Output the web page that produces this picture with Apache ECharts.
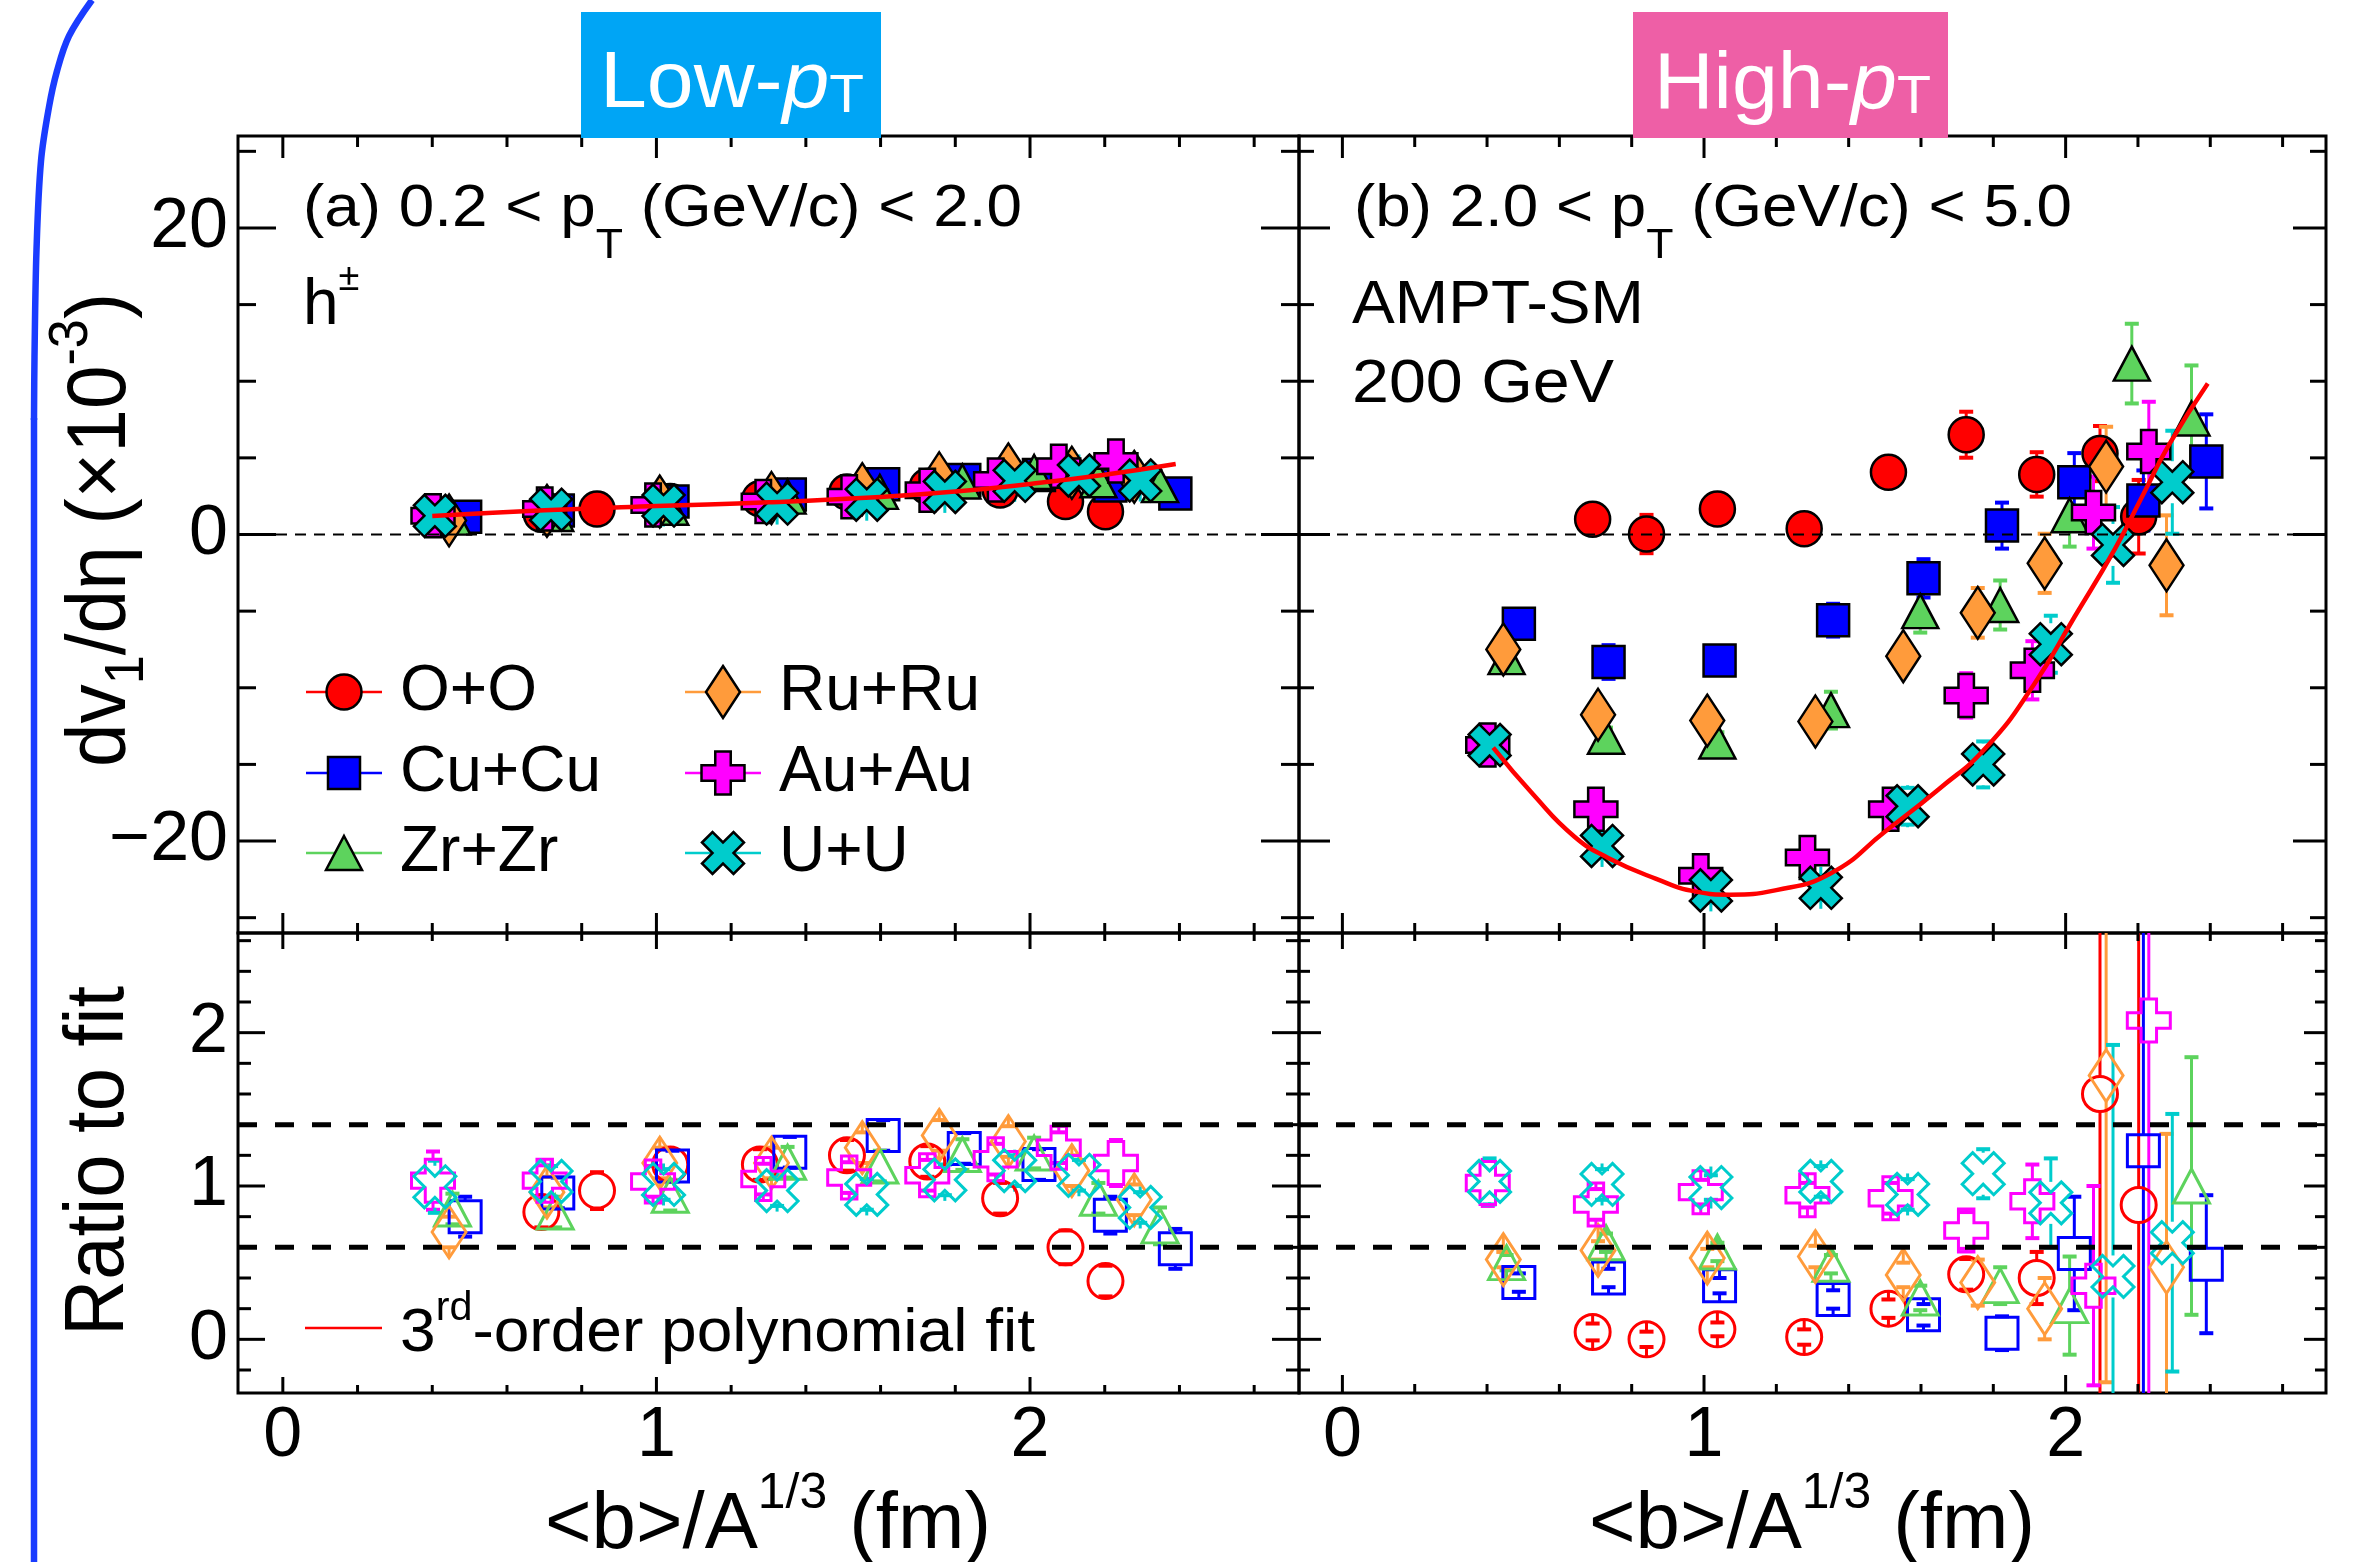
<!DOCTYPE html>
<html>
<head>
<meta charset="utf-8">
<script src="https://cdn.jsdelivr.net/npm/echarts@6/dist/echarts.min.js"></script>
<style>
  html, body { margin: 0; padding: 0; background: #fff; }
  #chart { width: 2357px; height: 1562px; }
</style>
</head>
<body>
<div id="chart"></div>
<script>
// ---- data ----
const sysNames = ['O+O', 'Cu+Cu', 'Zr+Zr', 'Ru+Ru', 'Au+Au', 'U+U'];

// <b>/A^(1/3) per centrality class, one list per system
const xOO   = [0.692, 0.841, 1.037, 1.277, 1.510, 1.725, 1.920, 2.095, 2.202];
const xCuCu = [0.488, 0.736, 1.043, 1.357, 1.607, 1.824, 2.024, 2.215, 2.389];
const xZrZr = [0.454, 0.729, 1.037, 1.351, 1.598, 1.819, 2.011, 2.183, 2.348];
const xRuRu = [0.445, 0.707, 1.009, 1.308, 1.551, 1.757, 1.942, 2.112, 2.279];
const xAuAu = [0.402, 0.701, 0.991, 1.286, 1.516, 1.725, 1.908, 2.077, 2.230];
const xUU   = [0.407, 0.718, 1.019, 1.323, 1.563, 1.772, 1.959, 2.131, 2.295];

// (a) low pT dv1/deta (x1e-3)
const lowOO   = [1.32, 1.66, 2.15, 2.33, 2.77, 3.13, 2.90, 2.15, 1.48];
const lowCuCu = [1.15, 1.56, 2.15, 2.61, 3.28, 3.55, 3.88, 3.20, 2.68];
const lowZrZr = [1.10, 1.34, 1.75, 2.47, 2.78, 3.46, 4.08, 3.54, 3.22];
const lowRuRu = [0.92, 1.54, 2.15, 2.38, 2.96, 3.67, 4.25, 4.03, 3.76];
const lowAuAu = [1.23, 1.66, 1.93, 2.15, 2.46, 2.88, 3.55, 4.45, 4.80];
const lowUU   = [1.22, 1.62, 1.89, 2.02, 2.27, 2.78, 3.50, 3.85, 3.52];
const errLowOO   = [0.15, 0.15, 0.15, 0.15, 0.18, 0.2, 0.22, 0.25, 0.3];
const errLowCuCu = [0.15, 0.15, 0.15, 0.15, 0.18, 0.2, 0.22, 0.25, 0.3];
const errLowZrZr = [0.15, 0.15, 0.15, 0.15, 0.18, 0.2, 0.22, 0.25, 0.3];
const errLowRuRu = [0.15, 0.15, 0.15, 0.15, 0.18, 0.2, 0.22, 0.25, 0.3];
const errLowAuAu = [0.15, 0.15, 0.15, 0.15, 0.18, 0.2, 0.22, 0.25, 0.3];
const errLowUU   = [0.15, 0.15, 0.15, 0.15, 0.18, 0.2, 0.22, 0.25, 0.3];

// (b) high pT dv1/deta (x1e-3)
const highOO   = [0.99, 0.03, 1.67, 0.37, 4.06, 6.51, 3.92, 5.28, 1.16];
const highCuCu = [-5.83, -8.32, -8.22, -5.59, -2.86, 0.58, 3.41, 2.22, 4.77];
const highZrZr = [-8.0, -13.2, -13.5, -11.46, -5.0, -4.6, 1.26, 11.15, 7.57];
const highRuRu = [-7.5, -11.76, -12.14, -12.2, -7.94, -5.11, -1.88, 4.43, -2.01];
const highAuAu = [-13.74, -17.93, -22.26, -21.07, -17.93, -10.5, -8.86, 1.43, 5.42];
const highUU   = [-13.74, -20.32, -23.22, -23.05, -17.73, -15.0, -7.16, -0.68, 3.41];
const errHighOO   = [0.5, 1.25, 0.5, 0.5, 0.6, 1.5, 1.45, 1.8, 2.4];
const errHighCuCu = [0.95, 1.1, 0.6, 1.07, 1.25, 1.5, 1.9, 1.96, 3.07];
const errHighZrZr = [0.5, 0.6, 0.6, 1.2, 1.4, 1.6, 2.05, 2.6, 3.46];
const errHighRuRu = [0.5, 0.6, 0.6, 0.7, 0.9, 1.62, 1.93, 2.6, 3.26];
const errHighAuAu = [0.6, 0.8, 0.8, 0.8, 1.0, 1.45, 1.9, 2.35, 3.24];
const errHighUU   = [0.6, 0.8, 0.8, 0.8, 1.2, 1.5, 1.86, 2.47, 3.36];

// ratio to fit, low pT
const ratLowOO   = [0.83, 0.97, 1.14, 1.14, 1.20, 1.16, 0.92, 0.60, 0.38];
const ratLowCuCu = [0.80, 0.955, 1.13, 1.22, 1.33, 1.245, 1.14, 0.81, 0.59];
const ratLowZrZr = [0.85, 0.83, 0.94, 1.155, 1.13, 1.205, 1.215, 0.92, 0.74];
const ratLowRuRu = [0.70, 0.96, 1.15, 1.15, 1.25, 1.33, 1.29, 1.10, 0.91];
const ratLowAuAu = [1.035, 1.035, 1.03, 1.045, 1.055, 1.07, 1.175, 1.25, 1.15];
const ratLowUU   = [0.995, 1.03, 1.01, 0.97, 0.945, 1.04, 1.10, 1.07, 0.86];
const errRatLowOO   = [0.1, 0.12, 0.1, 0.1, 0.1, 0.1, 0.1, 0.11, 0.1];
const errRatLowCuCu = [0.13, 0.1, 0.1, 0.1, 0.1, 0.1, 0.1, 0.12, 0.13];
const errRatLowZrZr = [0.1, 0.1, 0.1, 0.1, 0.1, 0.1, 0.1, 0.1, 0.12];
const errRatLowRuRu = [0.1, 0.1, 0.1, 0.1, 0.1, 0.1, 0.1, 0.1, 0.1];
const errRatLowAuAu = [0.19, 0.1, 0.1, 0.1, 0.1, 0.1, 0.1, 0.1, 0.15];
const errRatLowUU   = [0.17, 0.1, 0.1, 0.1, 0.1, 0.1, 0.1, 0.1, 0.1];

// ratio to fit, high pT (Zr+Zr point 8 is off scale)
const ratHighOO   = [0.048, 0.0, 0.065, 0.015, 0.2, 0.424, 0.40, 1.60, 0.876];
const ratHighCuCu = [0.37, 0.40, 0.35, 0.26, 0.16, 0.04, 0.56, 1.23, 0.49];
const ratHighZrZr = [0.50, 0.63, 0.57, 0.49, 0.27, 0.35, 0.22, null, 1.0];
const ratHighRuRu = [0.52, 0.58, 0.53, 0.54, 0.42, 0.37, 0.20, 1.72, 0.47];
const ratHighAuAu = [1.02, 0.88, 0.96, 0.94, 0.92, 0.71, 0.90, 0.35, 2.08];
const ratHighUU   = [1.03, 1.01, 0.99, 1.03, 0.945, 1.08, 0.89, 0.41, 0.63];
const errRatHighOO   = [0.055, 0.05, 0.045, 0.05, 0.06, 0.1, 0.17, 2.5, 3.0];
const errRatHighCuCu = [0.06, 0.06, 0.05, 0.06, 0.07, 0.11, 0.37, 3.0, 0.45];
const errRatHighZrZr = [0.05, 0.06, 0.06, 0.06, 0.08, 0.12, 0.32, null, 0.84];
const errRatHighRuRu = [0.05, 0.06, 0.06, 0.07, 0.08, 0.15, 0.2, 2.0, 0.87];
const errRatHighAuAu = [0.15, 0.1, 0.08, 0.08, 0.1, 0.12, 0.24, 0.65, 3.0];
const errRatHighUU   = [0.15, 0.1, 0.08, 0.1, 0.1, 0.16, 0.29, 1.51, 0.84];

// 3rd-order polynomial fits, traced
const fitLowX  = [0.40, 0.70, 1.00, 1.30, 1.60, 1.80, 2.00, 2.20, 2.39];
const fitLowY  = [1.20, 1.58, 1.86, 2.10, 2.45, 2.80, 3.30, 3.90, 4.60];
const fitHighX = [0.417, 0.529, 0.641, 0.735, 0.866, 0.978, 1.071, 1.20, 1.351, 1.50, 1.65, 1.78, 1.912, 2.024, 2.136, 2.211, 2.286, 2.393];
const fitHighY = [-13.9, -17.0, -19.7, -21.1, -22.45, -23.3, -23.5, -23.2, -22.1, -19.4, -16.6, -13.9, -9.8, -5.4, -0.95, 2.45, 5.86, 9.85];

// axes / ticks
const xRange = [-0.12, 2.72];
const yTopRange = [-26, 26];
const yBotRange = [-0.35, 2.65];
const xMajor = [0, 1, 2];
const xMajorLabels = ['0', '1', '2'];
const xMinor = [0.2, 0.4, 0.6, 0.8, 1.2, 1.4, 1.6, 1.8, 2.2, 2.4, 2.6];
const yTopMajor = [-20, 0, 20];
const yTopLabels = ['\u221220', '0', '20'];
const yTopMinor = [-25, -15, -10, -5, 5, 10, 15, 25];
const yBotMajor = [0, 1, 2];
const yBotLabels = ['0', '1', '2'];
const yBotMinor = [-0.2, 0.2, 0.4, 0.6, 0.8, 1.2, 1.4, 1.6, 1.8, 2.2, 2.4, 2.6];
const zeroLine = [0];
const ratioBands = [0.6, 1.4];

// ---- styling ----
const FONT = "'Liberation Sans', Arial, Helvetica, sans-serif";
const colors = ['#ff0000', '#0000ff', '#5dd35d', '#ff9b3b', '#ff00ff', '#00cccc'];
const CROSS_PTS = [[32,0],[68,0],[68,32],[100,32],[100,68],[68,68],[68,100],[32,100],[32,68],[0,68],[0,32],[32,32]];
const X_PTS = [[0,25],[25,0],[50,25],[75,0],[100,25],[75,50],[100,75],[75,100],[50,75],[25,100],[0,75],[25,50]];
const TRI_PTS = [[50,0],[100,100],[0,100]];
const DIA_PTS = [[50,0],[100,50],[50,100],[0,50]];
function toPath(pts) { return 'path://M' + pts.map(p => p[0] + ',' + p[1]).join('L') + 'Z'; }
const symbols = ['circle', 'rect', 'triangle', 'diamond', toPath(CROSS_PTS), toPath(X_PTS)];
const sizes = [[35, 35], [32, 32], [36, 34], [34, 52], [43, 43], [42, 42]];

const grids = [
  { left: 238, top: 136, width: 1061, height: 797 },
  { left: 1299, top: 136, width: 1027, height: 797 },
  { left: 238, top: 933, width: 1061, height: 460 },
  { left: 1299, top: 933, width: 1027, height: 460 }
];
// tick lengths [left, right, bottom, top] as [major, minor]
const tickLen = [
  { l: [38, 18], r: [38, 18], b: [20, 10], t: [22, 11] },
  { l: [31, 15], r: [33, 16], b: [20, 10], t: [22, 11] },
  { l: [27, 13], r: [27, 13], b: [16, 8], t: [16, 8] },
  { l: [22, 11], r: [22, 11], b: [18, 9], t: [16, 8] }
];

// ---- text helpers ----
const mctx = document.createElement('canvas').getContext('2d');
function fnt(size, italic) { return (italic ? 'italic ' : '') + size + 'px ' + FONT; }
function tw(t, f) { mctx.font = f; return mctx.measureText(t).width; }
function midOff(f) {
  mctx.font = f;
  mctx.textBaseline = 'alphabetic';
  const a = mctx.measureText('H').actualBoundingBoxAscent;
  mctx.textBaseline = 'middle';
  const b = mctx.measureText('H').actualBoundingBoxAscent;
  mctx.textBaseline = 'alphabetic';
  return a - b;
}
// pieces laid out along a baseline at (x, y)
function textLine(x, y, pieces, opt) {
  opt = opt || {};
  let cur = 0;
  const kids = pieces.map(p => {
    const f = fnt(p.size, p.italic);
    const el = {
      type: 'text', x: cur, y: (p.dy || 0) - midOff(f), z: 101,
      style: { text: p.t, font: f, fill: opt.color || '#000', textAlign: 'left', textVerticalAlign: 'middle', verticalAlign: 'middle' }
    };
    cur += tw(p.t, f);
    return el;
  });
  const sx = opt.width ? opt.width / cur : 1;
  const shift = opt.align === 'center' ? -cur / 2 : 0;
  kids.forEach(k => { k.x += shift; });
  return { type: 'group', x: x, y: y, rotation: opt.rotation || 0, scaleX: sx, z: 101, children: kids };
}
function poly(pts, cx, cy, w, h, style) {
  return { type: 'polygon', z: 102, shape: { points: pts.map(p => [cx - w / 2 + p[0] / 100 * w, cy - h / 2 + p[1] / 100 * h]) }, style: style };
}
function legendMarker(i, cx, cy) {
  const st = { fill: colors[i], stroke: '#000', lineWidth: 2.5 };
  const w = sizes[i][0], h = sizes[i][1];
  const els = [{ type: 'line', z: 101, shape: { x1: cx - 38, y1: cy, x2: cx + 38, y2: cy }, style: { stroke: colors[i], lineWidth: 2.5 } }];
  if (i === 0) els.push({ type: 'circle', z: 102, shape: { cx: cx, cy: cy, r: w / 2 }, style: st });
  else if (i === 1) els.push({ type: 'rect', z: 102, shape: { x: cx - w / 2, y: cy - h / 2, width: w, height: h }, style: st });
  else els.push(poly([null, null, TRI_PTS, DIA_PTS, CROSS_PTS, X_PTS][i], cx, cy, w, h, st));
  return els;
}

// ---- series builders ----
function ticksSeries(g, yMaj, yLab, yMin, showY, showX) {
  const tl = tickLen[g];
  return {
    type: 'custom', xAxisIndex: g, yAxisIndex: g, silent: true, clip: false, z: 4,
    data: [[0, 0]],
    renderItem: function (params, api) {
      const cs = params.coordSys;
      const L = cs.x, R = cs.x + cs.width, T = cs.y, B = cs.y + cs.height;
      const st = { stroke: '#000', lineWidth: 3 };
      const kids = [];
      const ln = (x1, y1, x2, y2) => kids.push({ type: 'line', shape: { x1: x1, y1: y1, x2: x2, y2: y2 }, style: st });
      const lab = (t, x, y, align) => kids.push({ type: 'text', x: x, y: y,
        style: { text: t, font: fnt(70), fill: '#000', textAlign: align, textVerticalAlign: 'middle', verticalAlign: 'middle' } });
      yMaj.forEach((v, i) => {
        const y = api.coord([0, v])[1];
        ln(L, y, L + tl.l[0], y); ln(R, y, R - tl.r[0], y);
        if (showY) lab(yLab[i], L - 10, y, 'right');
      });
      yMin.forEach(v => {
        const y = api.coord([0, v])[1];
        ln(L, y, L + tl.l[1], y); ln(R, y, R - tl.r[1], y);
      });
      xMajor.forEach((v, i) => {
        const x = api.coord([v, 0])[0];
        ln(x, B, x, B - tl.b[0]); ln(x, T, x, T + tl.t[0]);
        if (showX) lab(xMajorLabels[i], x, B + 44, 'center');
      });
      xMinor.forEach(v => {
        const x = api.coord([v, 0])[0];
        ln(x, B, x, B - tl.b[1]); ln(x, T, x, T + tl.t[1]);
      });
      return { type: 'group', children: kids };
    }
  };
}
function errSeries(g, xs, ys, es, i) {
  const half = sizes[i][1] / 2;
  const data = [];
  xs.forEach((x, k) => { if (ys[k] != null && es[k] != null) data.push([x, ys[k], es[k]]); });
  return {
    type: 'custom', xAxisIndex: g, yAxisIndex: g, silent: true, clip: true,
    data: data,
    renderItem: function (params, api) {
      const x = api.value(0), y = api.value(1), e = api.value(2);
      const c = api.coord([x, y]);
      const up = api.coord([x, y + e])[1], dn = api.coord([x, y - e])[1];
      const st = { stroke: colors[i], lineWidth: 3 };
      const cap = { stroke: colors[i], lineWidth: 4 };
      return { type: 'group', children: [
        { type: 'line', shape: { x1: c[0], y1: c[1] - half, x2: c[0], y2: up }, style: st },
        { type: 'line', shape: { x1: c[0], y1: c[1] + half, x2: c[0], y2: dn }, style: st },
        { type: 'line', shape: { x1: c[0] - 7, y1: up, x2: c[0] + 7, y2: up }, style: cap },
        { type: 'line', shape: { x1: c[0] - 7, y1: dn, x2: c[0] + 7, y2: dn }, style: cap }
      ] };
    }
  };
}
function markerSeries(g, xs, ys, i, open) {
  const data = [];
  xs.forEach((x, k) => { if (ys[k] != null) data.push([x, ys[k]]); });
  return {
    type: 'scatter', name: sysNames[i], xAxisIndex: g, yAxisIndex: g, clip: true,
    symbol: symbols[i], symbolSize: sizes[i], data: data,
    itemStyle: open
      ? { color: 'rgba(0,0,0,0)', borderColor: colors[i], borderWidth: 3, opacity: 1 }
      : { color: colors[i], borderColor: '#000', borderWidth: 2.5, opacity: 1 }
  };
}
function hLines(g, vals, width, dash) {
  return vals.map(v => ({
    type: 'line', xAxisIndex: g, yAxisIndex: g, silent: true, symbol: 'none',
    data: [[xRange[0], v], [xRange[1], v]],
    lineStyle: { color: '#000', width: width, type: dash }
  }));
}
function fitSeries(g, xs, ys) {
  return {
    type: 'line', xAxisIndex: g, yAxisIndex: g, silent: true, symbol: 'none', smooth: 0.5,
    data: xs.map((x, k) => [x, ys[k]]),
    lineStyle: { color: '#ff0000', width: 4.5 }
  };
}

const xsAll = [xOO, xCuCu, xZrZr, xRuRu, xAuAu, xUU];
const panelDefs = [
  { g: 0, ys: [lowOO, lowCuCu, lowZrZr, lowRuRu, lowAuAu, lowUU], es: [errLowOO, errLowCuCu, errLowZrZr, errLowRuRu, errLowAuAu, errLowUU], open: false, fit: [fitLowX, fitLowY] },
  { g: 1, ys: [highOO, highCuCu, highZrZr, highRuRu, highAuAu, highUU], es: [errHighOO, errHighCuCu, errHighZrZr, errHighRuRu, errHighAuAu, errHighUU], open: false, fit: [fitHighX, fitHighY] },
  { g: 2, ys: [ratLowOO, ratLowCuCu, ratLowZrZr, ratLowRuRu, ratLowAuAu, ratLowUU], es: [errRatLowOO, errRatLowCuCu, errRatLowZrZr, errRatLowRuRu, errRatLowAuAu, errRatLowUU], open: true },
  { g: 3, ys: [ratHighOO, ratHighCuCu, ratHighZrZr, ratHighRuRu, ratHighAuAu, ratHighUU], es: [errRatHighOO, errRatHighCuCu, errRatHighZrZr, errRatHighRuRu, errRatHighAuAu, errRatHighUU], open: true }
];

const series = [];
panelDefs.forEach(p => {
  if (p.g < 2) series.push(...hLines(p.g, zeroLine, 2, [11, 8]));
  else series.push(...hLines(p.g, ratioBands, 5, [19, 18]));
  for (let i = 0; i < 6; i++) {
    if (i === 5 && p.fit) series.push(fitSeries(p.g, p.fit[0], p.fit[1]));
    series.push(errSeries(p.g, xsAll[i], p.ys[i], p.es[i], i));
    series.push(markerSeries(p.g, xsAll[i], p.ys[i], i, p.open));
  }
});
series.push(ticksSeries(0, yTopMajor, yTopLabels, yTopMinor, true, false));
series.push(ticksSeries(1, yTopMajor, yTopLabels, yTopMinor, false, false));
series.push(ticksSeries(2, yBotMajor, yBotLabels, yBotMinor, true, true));
series.push(ticksSeries(3, yBotMajor, yBotLabels, yBotMinor, false, true));

// ---- decorations ----
const graphics = [];
// blue bracket on the far left
graphics.push({ type: 'polyline', z: 100, shape: { points: [[92, 0], [69, 36], [57, 71], [49, 107], [41, 161], [36.5, 250], [34.5, 357], [34, 420]], smooth: 0.35 },
  style: { stroke: '#1a3cff', lineWidth: 6.5, fill: null } });
graphics.push({ type: 'line', z: 100, shape: { x1: 34, y1: 418, x2: 34, y2: 1562 }, style: { stroke: '#1a3cff', lineWidth: 6.5 } });
// banners
graphics.push({ type: 'rect', z: 100, shape: { x: 581, y: 12, width: 300, height: 126 }, style: { fill: '#00a5f5' } });
graphics.push(textLine(600, 107, [{ t: 'Low-', size: 80 }, { t: 'p', size: 80, italic: true }, { t: 'T', size: 54, dy: 5 }], { color: '#fff', width: 264 }));
graphics.push({ type: 'rect', z: 100, shape: { x: 1633, y: 12, width: 315, height: 126 }, style: { fill: '#ee5fa6' } });
graphics.push(textLine(1654, 108, [{ t: 'High-', size: 80 }, { t: 'p', size: 80, italic: true }, { t: 'T', size: 54, dy: 5 }], { color: '#fff', width: 277 }));
// panel texts
graphics.push(textLine(303, 226, [{ t: '(a) 0.2 < p', size: 60 }, { t: 'T', size: 42, dy: 32 }, { t: ' (GeV/c) < 2.0', size: 60 }], { width: 719 }));
graphics.push(textLine(303, 324, [{ t: 'h', size: 64 }, { t: '\u00b1', size: 38, dy: -34 }]));
graphics.push(textLine(1354, 226, [{ t: '(b) 2.0 < p', size: 60 }, { t: 'T', size: 42, dy: 32 }, { t: ' (GeV/c) < 5.0', size: 60 }], { width: 718 }));
graphics.push(textLine(1352, 323, [{ t: 'AMPT-SM', size: 62 }], { width: 292 }));
graphics.push(textLine(1352, 402, [{ t: '200 GeV', size: 62 }], { width: 262 }));
// legend
const legCols = [344, 723], legRows = [692, 773, 853];
for (let i = 0; i < 6; i++) {
  const cx = legCols[Math.floor(i / 3)], cy = legRows[i % 3];
  graphics.push(...legendMarker(i, cx, cy));
  graphics.push(textLine(cx + 56, cy + 18, [{ t: sysNames[i], size: 64 }]));
}
graphics.push({ type: 'line', z: 101, shape: { x1: 305, y1: 1328, x2: 382, y2: 1328 }, style: { stroke: '#ff0000', lineWidth: 2.5 } });
graphics.push(textLine(400, 1351, [{ t: '3', size: 62 }, { t: 'rd', size: 40, dy: -31 }, { t: '-order polynomial fit', size: 62 }], { width: 635 }));
// axis titles
graphics.push(textLine(125, 530, [{ t: 'dv', size: 84 }, { t: '1', size: 56, dy: 18 }, { t: '/d\u03b7 (\u00d710', size: 84 }, { t: '-3', size: 56, dy: -38 }, { t: ')', size: 84 }],
  { align: 'center', rotation: Math.PI / 2, width: 474 }));
graphics.push(textLine(123, 1161, [{ t: 'Ratio to fit', size: 84 }], { align: 'center', rotation: Math.PI / 2, width: 350 }));
[768, 1812].forEach(cx => {
  graphics.push(textLine(cx, 1548, [{ t: '<b>/A', size: 80 }, { t: '1/3', size: 50, dy: -40 }, { t: ' (fm)', size: 80 }], { align: 'center', width: 446 }));
});

const chart = echarts.init(document.getElementById('chart'), null, { renderer: 'canvas' });
chart.setOption({
  animation: false,
  backgroundColor: '#fff',
  grid: grids.map(g => Object.assign({ show: true, borderColor: '#000', borderWidth: 3, backgroundColor: 'rgba(0,0,0,0)' }, g)),
  xAxis: grids.map((g, i) => ({ type: 'value', gridIndex: i, min: xRange[0], max: xRange[1], show: false, splitLine: { show: false } })),
  yAxis: grids.map((g, i) => ({ type: 'value', gridIndex: i, min: i < 2 ? yTopRange[0] : yBotRange[0], max: i < 2 ? yTopRange[1] : yBotRange[1], show: false, splitLine: { show: false } })),
  series: series,
  graphic: { elements: graphics }
});
</script>
</body>
</html>
